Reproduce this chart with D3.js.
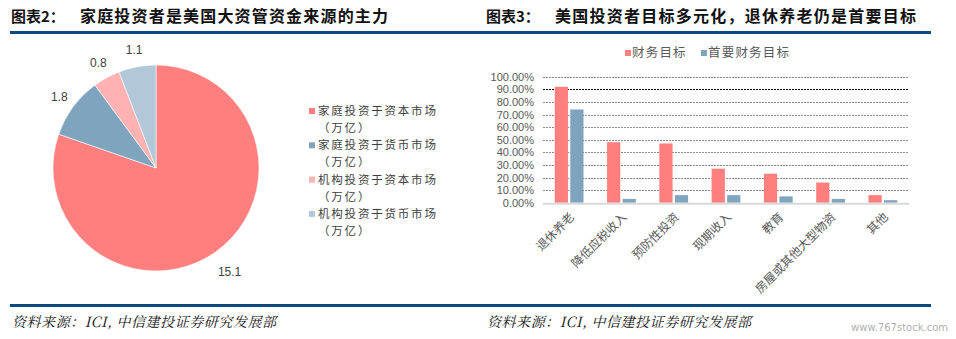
<!DOCTYPE html>
<html>
<head>
<meta charset="utf-8">
<script src="https://cdn.jsdelivr.net/npm/d3@7"></script>
<style>
  body { margin: 0; background: #fff; }
  svg { display: block; }
</style>
</head>
<body>
<div id="chart"></div>
<script>
// 图表2 数据
const pieLabels = ['家庭投资于资本市场', '家庭投资于货币市场', '机构投资于资本市场', '机构投资于货币市场'];
const pieValues = [15.1, 1.8, 0.8, 1.1];
const pieColors = ['#ff7f7f', '#7fa5be', '#ffb2b2', '#b2c8d8'];

// 图表3 数据
const barCategories = ['退休养老', '降低应税收入', '预防性投资', '现期收入', '教育', '房屋或其他大型物资', '其他'];
const barSeries = ['财务目标', '首要财务目标'];
const goalValues = [0.92, 0.48, 0.47, 0.27, 0.23, 0.16, 0.06];
const primaryValues = [0.74, 0.03, 0.06, 0.06, 0.05, 0.03, 0.02];
const barColors = ['#ff7f7f', '#7fa5be'];
const yTicks = [0, 0.1, 0.2, 0.3, 0.4, 0.5, 0.6, 0.7, 0.8, 0.9, 1.0];

const W = 956, H = 339;
const cjk = '"Noto Sans CJK SC", sans-serif';
const latin = '"Liberation Sans", Arial, sans-serif';
const navy = '#0b4a80';

const svg = d3.select('#chart').append('svg')
  .attr('width', W)
  .attr('height', H);

// 标题 + 上下分隔线 + 资料来源
function header(x, lineX1, lineX2, prefix, title, titleLen) {
  svg.append('text')
    .attr('x', x).attr('y', 22)
    .attr('font-family', cjk).attr('font-weight', 'bold').attr('font-size', 15)
    .attr('fill', '#111')
    .text(prefix);
  svg.append('text')
    .attr('x', x + 69).attr('y', 22)
    .attr('font-family', cjk).attr('font-weight', 'bold').attr('font-size', 16)
    .attr('fill', '#111')
    .attr('textLength', titleLen).attr('lengthAdjust', 'spacing')
    .text(title);
  svg.append('rect')
    .attr('x', lineX1).attr('y', 31)
    .attr('width', lineX2 - lineX1).attr('height', 3)
    .attr('fill', navy);
  svg.append('rect')
    .attr('x', lineX1).attr('y', 304)
    .attr('width', lineX2 - lineX1).attr('height', 3)
    .attr('fill', navy);
  svg.append('text')
    .attr('x', x + 1).attr('y', 327)
    .attr('font-family', '"Noto Serif CJK SC", "Noto Sans CJK SC", serif')
    .attr('font-style', 'italic').attr('font-size', 14)
    .attr('fill', '#111')
    .attr('textLength', 264).attr('lengthAdjust', 'spacing')
    .text('资料来源：ICI, 中信建投证券研究发展部');
}
header(11, 10, 478, '图表2：', '家庭投资者是美国大资管资金来源的主力', 308);
header(486, 478, 931, '图表3：', '美国投资者目标多元化，退休养老仍是首要目标', 361);

svg.append('text')
  .attr('x', 948).attr('y', 331)
  .attr('text-anchor', 'end')
  .attr('font-family', '"DejaVu Sans", sans-serif').attr('font-size', 10)
  .attr('fill', '#b0b0b0')
  .text('www.767stock.com');

// ---------- 饼图 ----------
const cx = 156, cy = 168, r = 103;
const pie = d3.pie().sort(null).value(d => d);
const arcs = pie(pieValues);
const arc = d3.arc().innerRadius(0).outerRadius(r);
const pieG = svg.append('g').attr('transform', `translate(${cx},${cy})`);

pieG.selectAll('path')
  .data(arcs)
  .enter()
  .append('path')
  .attr('d', arc)
  .attr('fill', (d, i) => pieColors[i])
  .attr('stroke', '#fff')
  .attr('stroke-width', 0.6);

const labelArc = d3.arc().innerRadius(120).outerRadius(120);
const bigLabelArc = d3.arc().innerRadius(127).outerRadius(127);
pieG.selectAll('text.pl')
  .data(arcs)
  .enter()
  .append('text')
  .attr('class', 'pl')
  .attr('transform', (d, i) => {
    const c = (i === 0 ? bigLabelArc : labelArc).centroid(d);
    return `translate(${c[0]},${c[1]})`;
  })
  .attr('text-anchor', 'middle')
  .attr('dy', '0.35em')
  .attr('font-family', latin).attr('font-size', 12)
  .attr('fill', '#404040')
  .text(d => d.data);

// 图例
const legG = svg.append('g').attr('transform', 'translate(309,111)');
pieLabels.forEach((name, i) => {
  const yy = i * 34.3;
  legG.append('rect')
    .attr('x', 0).attr('y', yy - 3)
    .attr('width', 6).attr('height', 6)
    .attr('fill', pieColors[i]);
  legG.append('text')
    .attr('x', 9).attr('y', yy).attr('dy', '0.35em')
    .attr('font-family', cjk).attr('font-size', 11.5)
    .attr('letter-spacing', 1.8)
    .attr('fill', '#404040')
    .text(name);
  legG.append('text')
    .attr('x', 9).attr('y', yy + 17).attr('dy', '0.35em')
    .attr('font-family', cjk).attr('font-size', 11.5)
    .attr('letter-spacing', 1.8)
    .attr('fill', '#404040')
    .text('（万亿）');
});

// ---------- 柱状图 ----------
const plotL = 543, plotR = 909, plotT = 76.7, plotB = 202.7;
const x0 = d3.scaleBand().domain(barCategories).range([plotL, plotR]).paddingInner(0.45).paddingOuter(0.225);
const x1 = d3.scaleBand().domain(barSeries).range([0, x0.bandwidth()]).paddingInner(0.15);
const y = d3.scaleLinear().domain([0, 1]).range([plotB, plotT]);

const grid = svg.append('g');
grid.selectAll('line')
  .data(yTicks.filter(t => t > 0))
  .enter()
  .append('line')
  .attr('x1', plotL).attr('x2', plotR)
  .attr('y1', d => Math.round(y(d)) + 0.5).attr('y2', d => Math.round(y(d)) + 0.5)
  .attr('stroke', d => d === 0.9 ? '#000' : '#8c8c8c')
  .attr('stroke-width', 1)
  .attr('stroke-dasharray', '2,1');

const yAxis = svg.append('g')
  .attr('transform', `translate(${plotL - 9},0)`)
  .call(d3.axisLeft(y).tickValues(yTicks).tickFormat(d3.format('.2%')).tickSize(0).tickPadding(0));
yAxis.select('.domain').remove();
yAxis.selectAll('text')
  .attr('font-family', latin).attr('font-size', 11)
  .attr('fill', '#595959');

const seriesData = [goalValues, primaryValues];
const groups = svg.append('g').selectAll('g')
  .data(barCategories)
  .enter()
  .append('g')
  .attr('transform', d => `translate(${x0(d)},0)`);

groups.selectAll('rect')
  .data((d, i) => barSeries.map((s, k) => ({ s, v: seriesData[k][i], k })))
  .enter()
  .append('rect')
  .attr('x', d => x1(d.s))
  .attr('y', d => y(d.v))
  .attr('width', x1.bandwidth())
  .attr('height', d => plotB - y(d.v))
  .attr('fill', d => barColors[d.k]);

svg.append('line')
  .attr('x1', plotL).attr('x2', plotR)
  .attr('y1', plotB + 1).attr('y2', plotB + 1)
  .attr('stroke', '#d9d9d9').attr('stroke-width', 2);

// x轴标签
svg.append('g').selectAll('text')
  .data(barCategories)
  .enter()
  .append('text')
  .attr('transform', d => `translate(${x0(d) + x0.bandwidth() / 2 + 3},${plotB + 12}) rotate(-45)`)
  .attr('text-anchor', 'end')
  .attr('dy', '0.35em')
  .attr('font-family', cjk).attr('font-size', 12)
  .attr('fill', '#595959')
  .text(d => d);

// 柱状图图例
const bl = svg.append('g').attr('transform', 'translate(625,53)');
const legX = [0, 76];
barSeries.forEach((name, i) => {
  bl.append('rect')
    .attr('x', legX[i]).attr('y', -3)
    .attr('width', 6).attr('height', 6)
    .attr('fill', barColors[i]);
  bl.append('text')
    .attr('x', legX[i] + 7).attr('y', 0).attr('dy', '0.35em')
    .attr('font-family', cjk).attr('font-size', 12.5)
    .attr('letter-spacing', 1.2)
    .attr('fill', '#595959')
    .text(name);
});
</script>
</body>
</html>
